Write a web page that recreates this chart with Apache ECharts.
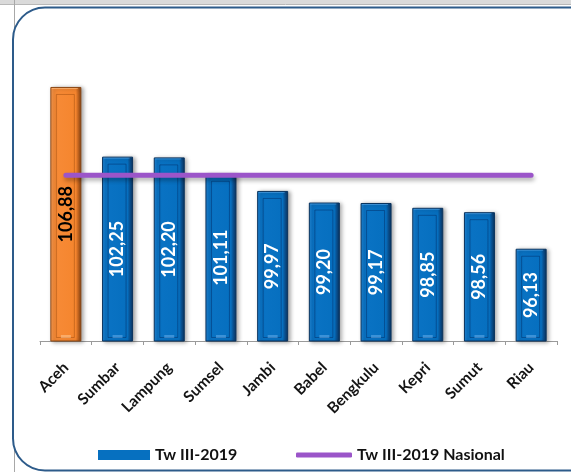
<!DOCTYPE html>
<html>
<head>
<meta charset="utf-8">
<script src="https://cdn.jsdelivr.net/npm/echarts@6/dist/echarts.min.js"></script>
<style>
  html, body { margin: 0; padding: 0; background: #ffffff; }
  #chart { width: 571px; height: 472px; }
</style>
</head>
<body>
<div id="chart"></div>
<script>
// Provinces, quarterly index values (Tw III-2019)
const provinces = ['Aceh', 'Sumbar', 'Lampung', 'Sumsel', 'Jambi', 'Babel', 'Bengkulu', 'Kepri', 'Sumut', 'Riau'];
const provinceValues = [106.88, 102.25, 102.20, 101.11, 99.97, 99.20, 99.17, 98.85, 98.56, 96.13];
// National value for the same quarter, repeated across every province
const nationalValues = [101.02, 101.02, 101.02, 101.02, 101.02, 101.02, 101.02, 101.02, 101.02, 101.02];
const highlighted = 'Aceh';

const BAR_NAME = 'Tw III-2019';
const LINE_NAME = 'Tw III-2019 Nasional';
const FONT = 'Lato, "Open Sans", sans-serif';

function barFill(isHighlight) {
  const stops = isHighlight
    ? [[0, '#fca05a'], [0.12, '#f78b37'], [0.82, '#f5852e'], [0.9, '#c2641f'], [1, '#7d3f12']]
    : [[0, '#2389da'], [0.12, '#0a73c4'], [0.82, '#066fbf'], [0.9, '#0a4f8e'], [1, '#0a335e']];
  return new echarts.graphic.LinearGradient(0, 0, 1, 0,
    stops.map(s => ({ offset: s[0], color: s[1] })));
}

const barData = provinceValues.map((v, i) => {
  const hl = provinces[i] === highlighted;
  return {
    value: v,
    itemStyle: {
      color: barFill(hl),
      borderColor: hl ? '#8a4613' : '#0a335e'
    },
    label: { color: hl ? '#000000' : '#ffffff' }
  };
});

const chart = echarts.init(document.getElementById('chart'), null, { renderer: 'canvas' });

chart.setOption({
  backgroundColor: '#ffffff',
  animation: false,
  graphic: [
    { type: 'rect', shape: { x: 0, y: 0, width: 571, height: 4 }, style: { fill: '#dadada' }, z: -10 },
    { type: 'line', shape: { x1: 0, y1: 4.5, x2: 571, y2: 4.5 }, style: { stroke: '#b8b8b8', lineWidth: 1 }, z: -10 },
    { type: 'line', shape: { x1: 14.5, y1: 0, x2: 14.5, y2: 472 }, style: { stroke: '#a8a8a8', lineWidth: 1 }, z: -10 },
    {
      type: 'rect',
      shape: { x: 13, y: 7.5, width: 600, height: 463, r: 32 },
      style: { fill: '#ffffff', stroke: '#2d5b8a', lineWidth: 2 },
      z: -9
    }
  ],
  legend: [
    {
      data: [BAR_NAME],
      left: 93, top: 442,
      itemWidth: 52, itemHeight: 10,
      icon: 'rect',
      textStyle: { fontFamily: FONT, fontWeight: 'bold', fontSize: 16, color: '#111111' },
      selectedMode: false
    },
    {
      data: [LINE_NAME],
      left: 291, top: 442,
      itemWidth: 56, itemHeight: 5,
      icon: 'roundRect',
      textStyle: { fontFamily: FONT, fontWeight: 'bold', fontSize: 16, color: '#111111' },
      selectedMode: false
    }
  ],
  grid: { left: 40, right: 14, top: 40, bottom: 131, containLabel: false },
  xAxis: {
    type: 'category',
    data: provinces,
    axisLine: { lineStyle: { color: '#9a9a9a', width: 1 } },
    axisTick: { show: true, length: 4, lineStyle: { color: '#9a9a9a' } },
    axisLabel: {
      rotate: 45,
      margin: 24,
      interval: 0,
      fontFamily: FONT,
      fontWeight: 'bold',
      fontSize: 15.5,
      color: '#141414'
    }
  },
  yAxis: {
    type: 'value',
    min: 90,
    max: 110,
    show: false,
    splitLine: { show: false }
  },
  series: [
    {
      name: BAR_NAME,
      type: 'bar',
      data: barData,
      barWidth: 31,
      itemStyle: {
        color: '#0670c0',
        borderWidth: 1,
        shadowColor: 'rgba(0,0,0,0.35)',
        shadowBlur: 4,
        shadowOffsetX: 2,
        shadowOffsetY: 1
      },
      label: {
        show: true,
        position: 'inside',
        rotate: 90,
        fontFamily: FONT,
        fontWeight: 'bold',
        fontSize: 18,
        formatter: p => p.value.toFixed(2).replace('.', ',')
      },
      z: 2
    },
    {
      // inner bevel frame drawn on each bar
      name: 'bevel',
      type: 'custom',
      data: provinceValues.map((v, i) => [i, v]),
      silent: true,
      z: 3,
      renderItem: function (params, api) {
        const top = api.coord([api.value(0), api.value(1)]);
        const base = api.coord([api.value(0), 90]);
        const cx = top[0];
        const hl = provinces[api.value(0)] === highlighted;
        const edge = hl ? 'rgba(150,70,10,0.45)' : 'rgba(0,40,95,0.45)';
        const light = hl ? 'rgba(255,200,150,0.55)' : 'rgba(110,180,240,0.5)';
        return {
          type: 'group',
          children: [
            {
              type: 'rect',
              shape: { x: cx - 9.5, y: top[1] + 7.5, width: 18, height: base[1] - top[1] - 11 },
              style: { fill: 'none', stroke: edge, lineWidth: 1 }
            },
            {
              type: 'line',
              shape: { x1: cx - 14, y1: top[1] + 1.5, x2: cx + 12, y2: top[1] + 1.5 },
              style: { stroke: light, lineWidth: 1 }
            },
            {
              type: 'rect',
              shape: { x: cx - 5, y: base[1] - 6, width: 10, height: 3 },
              style: { fill: light }
            }
          ]
        };
      }
    },
    {
      name: LINE_NAME,
      type: 'line',
      data: nationalValues,
      symbol: 'none',
      itemStyle: { color: '#9b55c9' },
      lineStyle: {
        color: '#9b55c9',
        width: 5,
        cap: 'round',
        shadowColor: 'rgba(0,0,0,0.3)',
        shadowBlur: 4,
        shadowOffsetY: 3,
        shadowOffsetX: 1
      },
      z: 5
    }
  ]
});
</script>
</body>
</html>
